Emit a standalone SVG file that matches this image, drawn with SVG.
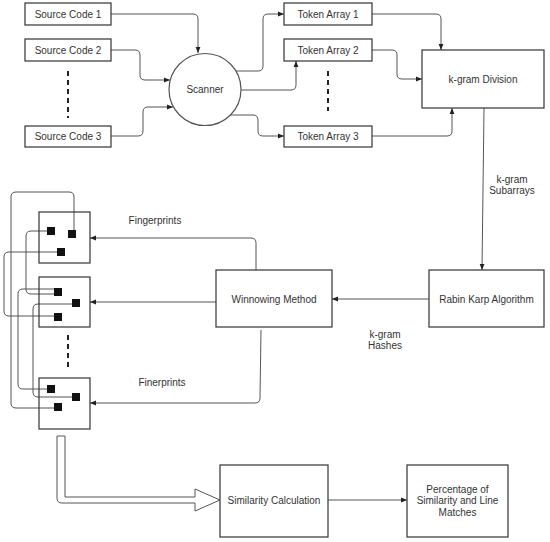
<svg xmlns="http://www.w3.org/2000/svg" width="550" height="542" viewBox="0 0 550 542">
<defs>
<marker id="ah" viewBox="0 0 10 10" refX="10" refY="5" markerWidth="6" markerHeight="6" orient="auto" markerUnits="userSpaceOnUse">
<path d="M0,1 L10,5 L0,9 Z" fill="#222"/>
</marker>
</defs>
<style>
.box{fill:#fff;stroke:#333;stroke-width:1.2}
.t{font-family:"Liberation Sans",Arial,sans-serif;font-size:10px;fill:#333;text-anchor:middle;dominant-baseline:central}
.c{fill:none;stroke:#555;stroke-width:1}
.a{marker-end:url(#ah)}
.dash{fill:none;stroke:#222;stroke-width:2;stroke-dasharray:5,4}
.sq{fill:#111}
</style>
<rect width="550" height="542" fill="#fff"/>

<g id="connectors">
<path class="c a" d="M111,14 H193 Q198,14 198,19 V53"/>
<path class="c a" d="M111,50 H135 Q140,50 140,55 V75 Q140,80 145,80 H170"/>
<path class="c a" d="M111,136 H138 Q143,136 143,131 V112 Q143,107 148,107 H173"/>
<path class="c a" d="M236,71 H258 Q263,71 263,66 V19 Q263,14 268,14 H284"/>
<path class="c a" d="M241,90 H291 Q296,90 296,85 V61"/>
<path class="c a" d="M230,115 H253 Q258,115 258,120 V131 Q258,136 263,136 H284"/>
<path class="c a" d="M372,14 H436 Q441,14 441,19 V50"/>
<path class="c a" d="M372,50 H392 Q397,50 397,55 V74 Q397,79 402,79 H422"/>
<path class="c a" d="M372,136 H447 Q452,136 452,131 V108"/>
<path class="c a" d="M484,108 L482,270"/>
<path class="c a" d="M429,299 H332"/>
<path class="c a" d="M256,270 V243 Q256,238 251,238 H90"/>
<path class="c a" d="M216,302 H90"/>
<path class="c a" d="M261,330 L260,398 Q260,403 255,403 H90"/>
<path class="c" d="M74,231 V197 Q74,192 69,192 H16 Q11,192 11,197 V403 Q11,408 16,408 H57"/>
<path class="c" d="M50,231 H31 Q26,231 26,236 V289 Q26,294 31,294 H57"/>
<path class="c" d="M61,252 H9 Q4,252 4,257 V311 Q4,316 9,316 H57"/>
<path class="c" d="M57,289 H23 Q18,289 18,294 V384 Q18,389 23,389 H50"/>
<path class="c" d="M76,304 H38 Q33,304 33,309 V392 Q33,397 38,397 H76"/>
<path class="c a" d="M328,500 H407"/>
<path d="M57,436 V498 Q57,503 62,503 H195 V511 L220,500 L195,489 V497 H65 V436 Z" fill="#fff" stroke="#555" stroke-width="1"/>
</g>

<path class="dash" d="M68,71 V118"/>
<path class="dash" d="M328,71 V111"/>
<path class="dash" d="M68,335 V371"/>

<g id="source1"><rect class="box" x="25" y="3" width="86" height="22"/><text class="t" x="68" y="14">Source Code 1</text></g>
<g id="source2"><rect class="box" x="25" y="39" width="86" height="22"/><text class="t" x="68" y="50">Source Code 2</text></g>
<g id="source3"><rect class="box" x="25" y="126" width="86" height="21"/><text class="t" x="68" y="136.5">Source Code 3</text></g>
<g id="scanner"><circle cx="205" cy="89.5" r="36" fill="#fff" stroke="#555" stroke-width="1.2"/><text class="t" x="205" y="89.5">Scanner</text></g>
<g id="token1"><rect class="box" x="284" y="3" width="88" height="22"/><text class="t" x="328" y="14">Token Array 1</text></g>
<g id="token2"><rect class="box" x="284" y="39" width="88" height="22"/><text class="t" x="328" y="50">Token Array 2</text></g>
<g id="token3"><rect class="box" x="284" y="126" width="88" height="21"/><text class="t" x="328" y="136.5">Token Array 3</text></g>
<g id="kgram"><rect class="box" x="422" y="50" width="122" height="58"/><text class="t" x="483" y="79">k-gram Division</text></g>
<g id="subarrays-label"><text class="t" x="512" y="179">k-gram</text><text class="t" x="512" y="190">Subarrays</text></g>
<g id="rabin"><rect class="box" x="429" y="270" width="115" height="57"/><text class="t" x="486.5" y="299">Rabin Karp Algorithm</text></g>
<g id="winnowing"><rect class="box" x="216" y="270" width="116" height="57"/><text class="t" x="274" y="299">Winnowing Method</text></g>
<g id="hashes-label"><text class="t" x="385" y="334">k-gram</text><text class="t" x="385" y="345">Hashes</text></g>
<g id="fp-label1"><text class="t" x="155" y="220">Fingerprints</text></g>
<g id="fp-label2"><text class="t" x="162" y="382">Finerprints</text></g>

<g id="fp1"><rect class="box" x="39" y="212" width="51" height="51" fill="none" style="fill:none"/>
<rect class="sq" x="47" y="227" width="8" height="8"/><rect class="sq" x="68" y="230" width="8" height="8"/><rect class="sq" x="57" y="248" width="8" height="8"/></g>
<g id="fp2"><rect class="box" x="39" y="277" width="51" height="50" style="fill:none"/>
<rect class="sq" x="54" y="288" width="8" height="8"/><rect class="sq" x="72" y="299" width="8" height="8"/><rect class="sq" x="54" y="313" width="8" height="8"/></g>
<g id="fp3"><rect class="box" x="39" y="378" width="51" height="51" style="fill:none"/>
<rect class="sq" x="47" y="385" width="8" height="8"/><rect class="sq" x="72" y="393" width="8" height="8"/><rect class="sq" x="54" y="403" width="8" height="8"/></g>

<g id="similarity"><rect class="box" x="220" y="465" width="108" height="72"/><text class="t" x="274" y="500">Similarity Calculation</text></g>
<g id="percentage"><rect class="box" x="407" y="465" width="101" height="72"/><text class="t" x="457.5" y="489">Percentage of</text><text class="t" x="457.5" y="500.5">Similarity and Line</text><text class="t" x="457.5" y="512">Matches</text></g>
</svg>
